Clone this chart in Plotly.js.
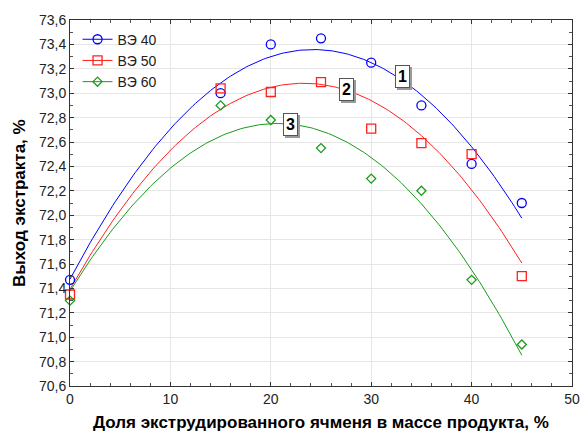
<!DOCTYPE html>
<html>
<head>
<meta charset="utf-8">
<script src="https://cdn.plot.ly/plotly-3.0.1.min.js"></script>
<style>html,body{margin:0;padding:0;background:#fff;}#chart{width:582px;height:432px;}</style>
</head>
<body>
<div id="chart"></div>
<script>
const xVals = [0, 15, 20, 25, 30, 35, 40, 45];
const ve40 = [71.47, 73.00, 73.40, 73.45, 73.25, 72.90, 72.42, 72.10];
const ve50 = [71.35, 73.04, 73.01, 73.09, 72.71, 72.59, 72.50, 71.50];
const ve60 = [71.30, 72.90, 72.78, 72.55, 72.30, 72.20, 71.47, 70.94];
const seriesNames = ['ВЭ 40', 'ВЭ 50', 'ВЭ 60'];
const curveLabels = ['1', '2', '3'];
const labelX = [33.1, 27.5, 22.0];
const labelY = [73.14, 73.03, 72.74];
const xTitle = 'Доля экструдированного ячменя в массе продукта, %';
const yTitle = 'Выход экстракта, %';

// least-squares quadratic fit (like the source software's fitted curves)
function quadFit(x, y) {
  let S = [0,0,0,0,0], T = [0,0,0];
  for (let i = 0; i < x.length; i++) {
    let p = 1;
    for (let k = 0; k < 5; k++) { S[k] += p; if (k < 3) T[k] += p * y[i]; p *= x[i]; }
  }
  const A = [[S[0],S[1],S[2],T[0]],[S[1],S[2],S[3],T[1]],[S[2],S[3],S[4],T[2]]];
  for (let i = 0; i < 3; i++) {
    for (let j = i+1; j < 3; j++) {
      const f = A[j][i] / A[i][i];
      for (let k = i; k < 4; k++) A[j][k] -= f * A[i][k];
    }
  }
  const c = [0,0,0];
  for (let i = 2; i >= 0; i--) {
    let s = A[i][3];
    for (let k = i+1; k < 3; k++) s -= A[i][k] * c[k];
    c[i] = s / A[i][i];
  }
  return c;
}
function curve(x, y) {
  const c = quadFit(x, y);
  const xs = [], ys = [];
  const x0 = Math.min(...x), x1 = Math.max(...x);
  for (let i = 0; i <= 180; i++) {
    const t = x0 + (x1 - x0) * i / 180;
    xs.push(t); ys.push(c[0] + c[1]*t + c[2]*t*t);
  }
  return {xs, ys};
}

const colors = ['#0000ff', '#ff2020', '#1a9a1a'];
const symbols = ['circle-open', 'square-open', 'diamond-open'];
const sizes = [9, 9, 7];
const all = [ve40, ve50, ve60];
const plotData = [];
all.forEach((ys, i) => {
  const cv = curve(xVals, ys);
  plotData.push({x: cv.xs, y: cv.ys, mode: 'lines', line: {color: colors[i], width: 1}, showlegend: false, hoverinfo: 'skip'});
});
all.forEach((ys, i) => {
  plotData.push({x: xVals, y: ys, mode: 'markers', name: seriesNames[i], showlegend: false,
    marker: {symbol: symbols[i], size: sizes[i], color: colors[i], line: {width: 1.3, color: colors[i]}},
    cliponaxis: false});
});
all.forEach((ys, i) => {
  plotData.push({x: [null], y: [null], mode: 'lines+markers', name: seriesNames[i],
    line: {color: colors[i], width: 1},
    marker: {symbol: symbols[i], size: sizes[i], color: colors[i], line: {width: 1.3, color: colors[i]}}});
});

const FONT = 'Liberation Sans, Arial, sans-serif';
const annotations = [];
curveLabels.forEach((t, i) => {
  // drop shadow behind the label box
  annotations.push({
    x: labelX[i], y: labelY[i], xref: 'x', yref: 'y', text: '<b>\u00a0\u00a0</b>', showarrow: false,
    font: {family: FONT, size: 16, color: '#9a9a9a'},
    bgcolor: '#9a9a9a', bordercolor: '#9a9a9a', borderwidth: 1, borderpad: 2, xshift: 2, yshift: -2
  });
  annotations.push({
    x: labelX[i], y: labelY[i], xref: 'x', yref: 'y', text: '<b>' + t + '</b>', showarrow: false,
    font: {family: FONT, size: 16, color: '#000'},
    bgcolor: '#ffffff', bordercolor: '#555', borderwidth: 1, borderpad: 2
  });
});
// axis titles
annotations.push({
  x: 0.5, y: 0, xref: 'paper', yref: 'paper', xanchor: 'center', yanchor: 'top', yshift: -25,
  text: '<b>' + xTitle + '</b>', showarrow: false, font: {family: FONT, size: 17, color: '#000'}
});
annotations.push({
  x: 0, y: 0.5, xref: 'paper', yref: 'paper', xanchor: 'center', yanchor: 'middle', xshift: -51,
  textangle: -90, text: '<b>' + yTitle + '</b>', showarrow: false, font: {family: FONT, size: 17, color: '#000'}
});

const layout = {
  width: 582, height: 432,
  margin: {l: 70, r: 10, t: 20, b: 46},
  paper_bgcolor: '#fff', plot_bgcolor: '#fff',
  separators: ', ',
  font: {family: FONT, size: 14, color: '#222'},
  xaxis: {
    range: [0, 50], dtick: 10, tick0: 0, showgrid: true, gridcolor: '#e6e6e6', gridwidth: 1,
    zeroline: false, showline: true, linecolor: '#333', linewidth: 1, mirror: 'allticks',
    ticks: 'inside', ticklen: 4, tickcolor: '#333',
    minor: {dtick: 2, ticks: 'inside', ticklen: 3, tickcolor: '#555', showgrid: false},
    tickfont: {size: 14}
  },
  yaxis: {
    range: [70.6, 73.6], dtick: 0.2, tick0: 70.6, tickformat: '.1f', showgrid: true, gridcolor: '#e6e6e6', gridwidth: 1,
    zeroline: false, showline: true, linecolor: '#333', linewidth: 1, mirror: 'allticks',
    ticks: 'inside', ticklen: 4, tickcolor: '#333',
    minor: {dtick: 0.1, ticks: 'inside', ticklen: 3, tickcolor: '#555', showgrid: false},
    tickfont: {size: 14}
  },
  legend: {x: 0.015, y: 0.99, xanchor: 'left', yanchor: 'top', bgcolor: 'rgba(0,0,0,0)',
    font: {size: 14, color: '#222'}, tracegroupgap: 0, itemwidth: 30},
  showlegend: true,
  annotations: annotations
};
Plotly.newPlot('chart', plotData, layout, {staticPlot: true, displayModeBar: false});
</script>
</body>
</html>
